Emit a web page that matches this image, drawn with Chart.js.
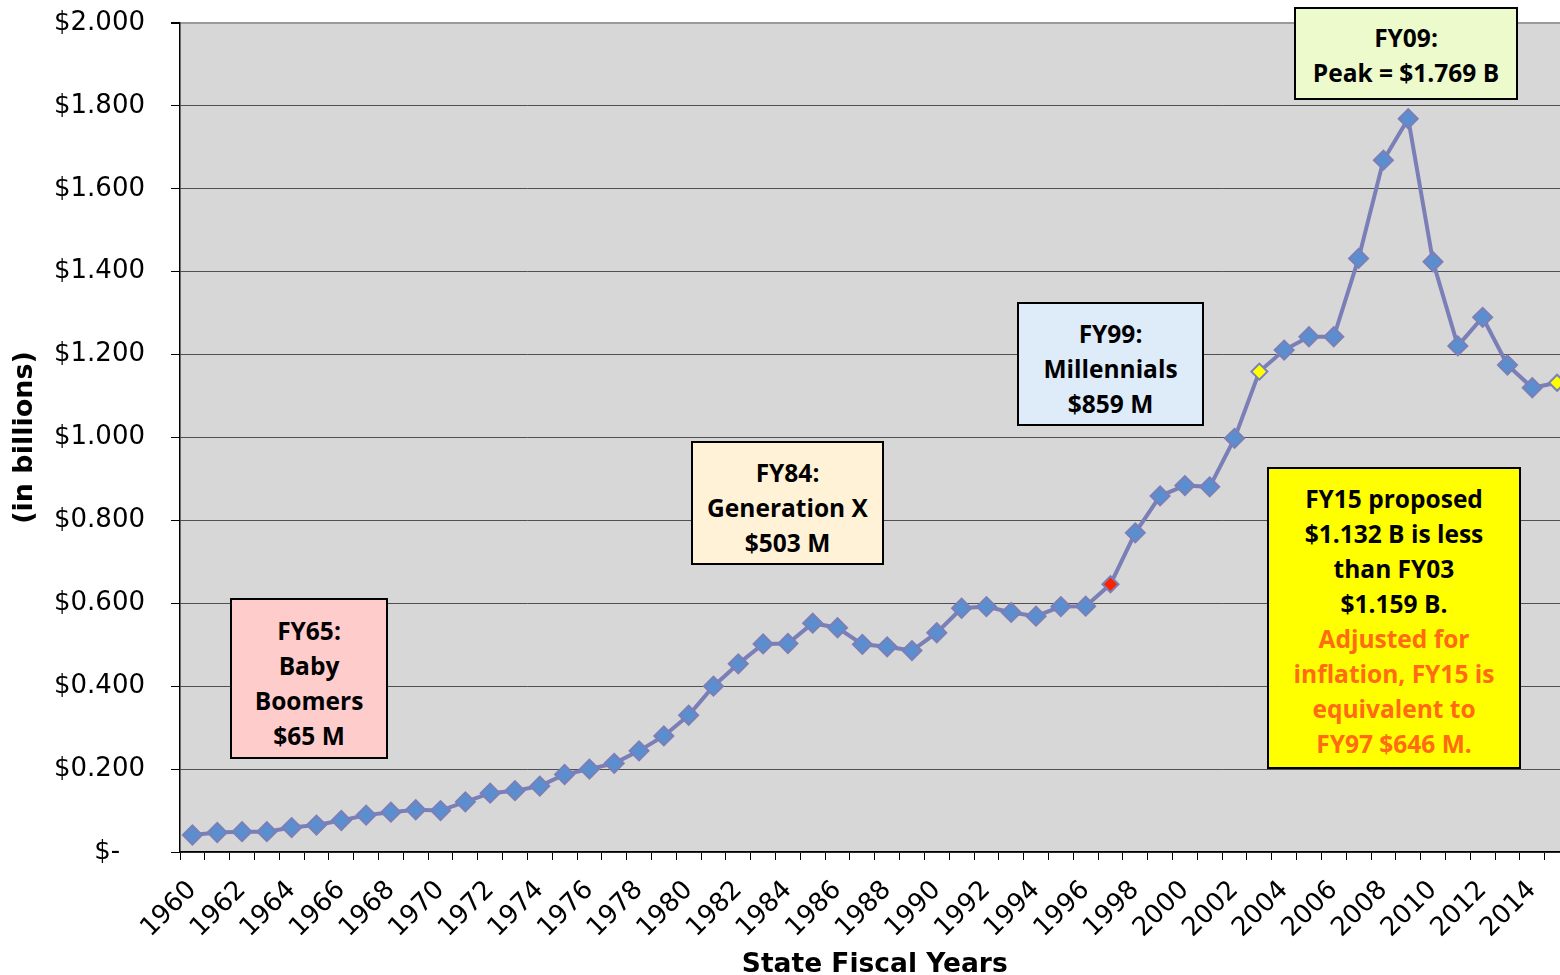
<!DOCTYPE html>
<html>
<head>
<meta charset="utf-8">
<script src="https://cdn.jsdelivr.net/npm/chart.js@4.4.1/dist/chart.umd.min.js"></script>
<style>
  html, body { margin: 0; padding: 0; background: #fff; }
  body { width: 1560px; height: 975px; overflow: hidden; position: relative; }
  #wrap { position: absolute; left: 0; top: 0; width: 1581px; height: 985px; }
  .note {
    position: absolute; box-sizing: border-box; border: 2px solid #000;
    font-family: "Open Sans", Lato, sans-serif; font-weight: bold; font-size: 24.5px;
    line-height: 35px; text-align: center; color: #000; white-space: nowrap;
  }
  .note .orange { color: #ff6a12; }
</style>
</head>
<body>
<div id="wrap"><canvas id="chart" width="1581" height="985"></canvas></div>

<div class="note" style="left:230px;top:598px;width:158px;height:161px;padding-top:13px;background:#ffcccc;">FY65:<br>Baby<br>Boomers<br>$65 M</div>
<div class="note" style="left:691px;top:441px;width:193px;height:124px;padding-top:12px;background:#fff2d6;">FY84:<br>Generation X<br>$503 M</div>
<div class="note" style="left:1017px;top:302px;width:187px;height:124px;padding-top:12px;background:#deebf8;">FY99:<br>Millennials<br>$859 M</div>
<div class="note" style="left:1294px;top:7px;width:224px;height:93px;padding-top:11px;background:#edfbcc;">FY09:<br>Peak = $1.769 B</div>
<div class="note" style="left:1267px;top:467px;width:254px;height:302px;padding-top:12px;background:#ffff00;">FY15 proposed<br>$1.132 B is less<br>than FY03<br>$1.159 B.<br><span class="orange">Adjusted for<br>inflation, FY15 is<br>equivalent to<br>FY97 $646 M.</span></div>

<script>
// state fiscal years 1960 - 2015, appropriations in billions
const years = []
for (let y = 1960; y <= 2015; y++) years.push(String(y))

const funding = [
  0.041, 0.047, 0.049, 0.049, 0.059, 0.065, 0.076, 0.089, 0.096, 0.102,
  0.100, 0.121, 0.142, 0.148, 0.159, 0.187, 0.200, 0.214, 0.244, 0.280,
  0.330, 0.400, 0.454, 0.502, 0.503, 0.552, 0.541, 0.501, 0.495, 0.486,
  0.529, 0.588, 0.592, 0.578, 0.569, 0.592, 0.593, 0.646, 0.770, 0.859,
  0.884, 0.881, 0.998, 1.159, 1.211, 1.243, 1.243, 1.432, 1.669, 1.769,
  1.424, 1.221, 1.290, 1.175, 1.120, 1.132
]

const redYears = ["1997"]
const yellowYears = ["2003", "2015"]

const yTicks = [0, 0.2, 0.4, 0.6, 0.8, 1.0, 1.2, 1.4, 1.6, 1.8, 2.0]

const LINE = "#7b7fb7"
const BLUE = "#5b8ecf"

const plotBg = {
  id: "plotBg",
  beforeDraw(chart) {
    const a = chart.chartArea
    const ctx = chart.ctx
    ctx.save()
    ctx.fillStyle = "#d7d7d7"
    ctx.fillRect(a.left, a.top, a.right - a.left, a.bottom - a.top)
    ctx.restore()
  }
}

function pointColor(ctx) {
  const yr = years[ctx.dataIndex]
  if (redYears.includes(yr)) return "#ff2200"
  if (yellowYears.includes(yr)) return "#ffff00"
  return BLUE
}
function pointSize(ctx) {
  const yr = years[ctx.dataIndex]
  if (redYears.includes(yr) || yellowYears.includes(yr)) return 8
  return 9.5
}

new Chart(document.getElementById("chart"), {
  type: "line",
  data: {
    labels: years,
    datasets: [{
      data: funding,
      borderColor: LINE,
      borderWidth: 4,
      tension: 0,
      pointStyle: "rectRot",
      pointRadius: pointSize,
      pointBackgroundColor: pointColor,
      pointBorderColor: LINE,
      pointBorderWidth: 2
    }]
  },
  options: {
    responsive: false,
    animation: false,
    layout: { padding: { top: 23, right: 3, left: 0, bottom: 0 } },
    plugins: { legend: { display: false }, tooltip: { enabled: false } },
    scales: {
      x: {
        offset: true,
        grid: { offset: true, drawOnChartArea: false, tickLength: 8, tickColor: "#000" },
        border: { color: "#000", width: 1.5 },
        ticks: {
          autoSkip: false, minRotation: 45, maxRotation: 45, padding: 15,
          color: "#000", font: { family: "DejaVu Sans", size: 26 },
          callback: (v, i) => i % 2 === 0 ? years[i] : ""
        },
        title: {
          display: true, text: "State Fiscal Years", color: "#000",
          font: { family: "DejaVu Sans", weight: "bold", size: 26.5 },
          padding: { top: 0, bottom: 4 }
        },
        afterFit: s => { s.height = 133; s.paddingLeft = 0; s.paddingRight = 0 }
      },
      y: {
        min: 0, max: 2,
        afterBuildTicks: s => { s.ticks = yTicks.map(v => ({ value: v })) },
        grid: {
          color: c => c.tick && c.tick.value === 2 ? "#9a9a9a" : "#505050",
          lineWidth: c => c.tick && c.tick.value === 2 ? 2 : 1,
          tickLength: 9, tickColor: "#000"
        },
        border: { color: "#000", width: 1.5 },
        ticks: {
          padding: 26, color: "#000", font: { family: "DejaVu Sans", size: 26 },
          callback: v => v === 0 ? "$-   " : "$" + v.toFixed(3)
        },
        title: {
          display: true, text: "(in billions)", color: "#000",
          font: { family: "DejaVu Sans", weight: "bold", size: 27 },
          padding: { top: 9, bottom: 0 }
        },
        afterFit: s => { s.width = 180; s.paddingTop = 0; s.paddingBottom = 0 }
      }
    }
  },
  plugins: [plotBg]
})
</script>
</body>
</html>
